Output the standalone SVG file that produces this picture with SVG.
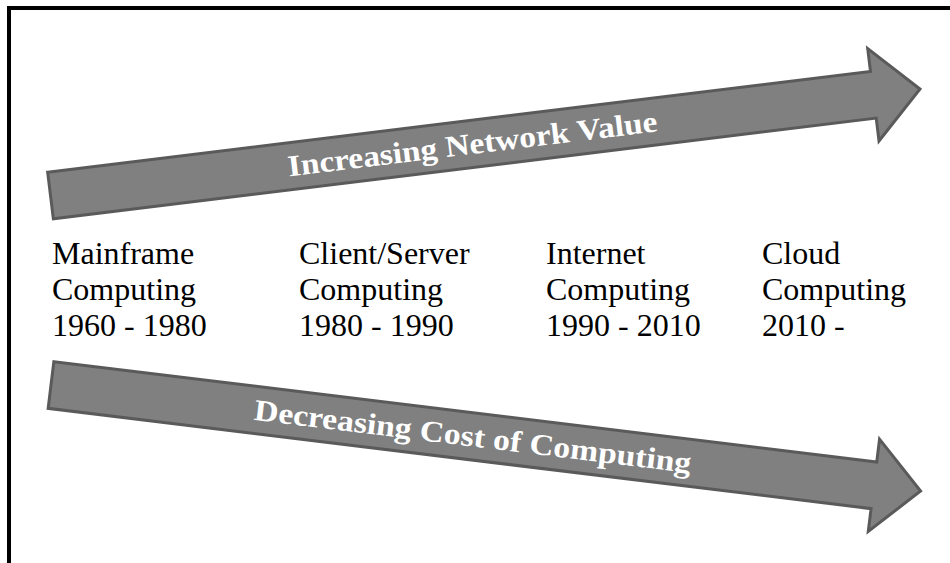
<svg xmlns="http://www.w3.org/2000/svg" width="950" height="563" viewBox="0 0 950 563">
<style>
.frame{fill:none;stroke:#000;stroke-width:4}
.arrow{fill:#808080;stroke:#5a5a5a;stroke-width:3;stroke-linejoin:miter}
.atext{font-family:"Liberation Serif",serif;font-weight:bold;font-size:30px;fill:#fff;text-anchor:middle}
.label{font-family:"Liberation Serif",serif;font-size:32px;fill:#000}
</style>
<defs>
<polygon id="arrowShape" points="0,-23.5 829,-23.5 829,-46.5 876,0 829,46.5 829,23.5 0,23.5"/>
</defs>
<rect x="9" y="8" width="1000" height="1000" class="frame"/>
<g id="connectors">
<g id="arrow-up" transform="translate(50.5,195.5) rotate(-6.98)">
<use href="#arrowShape" class="arrow"/>
<text x="425" y="10" class="atext" textLength="372" lengthAdjust="spacingAndGlyphs">Increasing Network Value</text>
</g>
<g id="arrow-down" transform="translate(51,385) rotate(6.95)">
<use href="#arrowShape" class="arrow"/>
<text x="425" y="10" class="atext" textLength="440" lengthAdjust="spacingAndGlyphs">Decreasing Cost of Computing</text>
</g>
</g>
<g id="mainframe">
<text class="label" x="52" y="264">Mainframe</text>
<text class="label" x="52" y="300">Computing</text>
<text class="label" x="52" y="336">1960 - 1980</text>
</g>
<g id="clientserver">
<text class="label" x="299" y="264">Client/Server</text>
<text class="label" x="299" y="300">Computing</text>
<text class="label" x="299" y="336">1980 - 1990</text>
</g>
<g id="internet">
<text class="label" x="546" y="264">Internet</text>
<text class="label" x="546" y="300">Computing</text>
<text class="label" x="546" y="336">1990 - 2010</text>
</g>
<g id="cloud">
<text class="label" x="762" y="264">Cloud</text>
<text class="label" x="762" y="300">Computing</text>
<text class="label" x="762" y="336">2010 -</text>
</g>
</svg>
